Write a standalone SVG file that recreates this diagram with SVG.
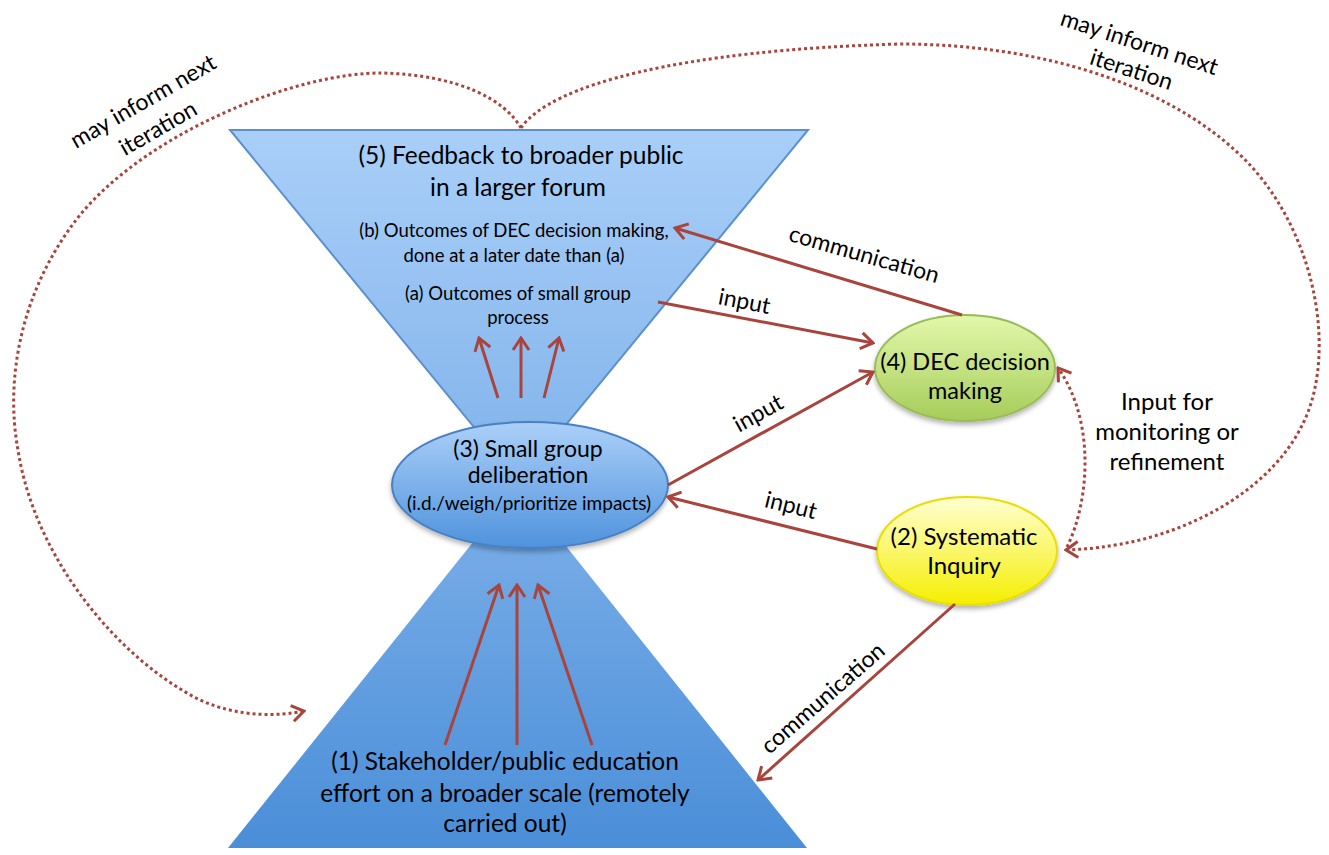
<svg xmlns="http://www.w3.org/2000/svg" width="1329" height="855" viewBox="0 0 1329 855">
<defs>
<linearGradient id="gTop" x1="0" y1="0" x2="0" y2="1">
<stop offset="0" stop-color="#a9cff8"/><stop offset="1" stop-color="#80b2eb"/>
</linearGradient>
<linearGradient id="gBot" x1="0" y1="0" x2="0" y2="1">
<stop offset="0" stop-color="#7db0e9"/><stop offset="1" stop-color="#4a8ed8"/>
</linearGradient>
<linearGradient id="gE3" x1="0" y1="0" x2="0" y2="1">
<stop offset="0" stop-color="#abd0f8"/><stop offset="1" stop-color="#4f92dd"/>
</linearGradient>
<linearGradient id="gE4" x1="0" y1="0" x2="0" y2="1">
<stop offset="0" stop-color="#e2f8ab"/><stop offset="1" stop-color="#a6cc5a"/>
</linearGradient>
<linearGradient id="gE2" x1="0" y1="0" x2="0" y2="1">
<stop offset="0" stop-color="#ffffd2"/><stop offset="1" stop-color="#f5ee00"/>
</linearGradient>
<filter id="sh" x="-20%" y="-20%" width="140%" height="150%">
<feDropShadow dx="0" dy="3" stdDeviation="2.5" flood-color="#000" flood-opacity="0.3"/>
</filter>
<marker id="ah" viewBox="0 0 16 20" refX="14" refY="10" markerWidth="16" markerHeight="20" markerUnits="userSpaceOnUse" orient="auto">
<path d="M2,2 L14,10 L2,18" fill="none" stroke="#a9443d" stroke-width="3"/>
</marker>
</defs>
<style>
.t{font-family:Lato,"Open Sans","Liberation Sans",sans-serif;fill:#000;text-anchor:middle}
.big{font-size:24.5px}
.sm{font-size:18.5px}
.lbl{font-size:23px}
.arr{fill:none;stroke:#a9443d;stroke-width:3;marker-end:url(#ah)}
.dot{fill:none;stroke:#a9443d;stroke-width:3;stroke-dasharray:3 3}
</style>

<g id="node5">
<polygon points="230,130 808,130 519,482" fill="url(#gTop)" stroke="#5a8fd0" stroke-width="2"/>
<text class="t big" x="521" y="164">(5) Feedback to broader public</text>
<text class="t big" x="518" y="196">in a larger forum</text>
<text class="t sm" x="514" y="237">(b) Outcomes of DEC decision making,</text>
<text class="t sm" x="514" y="262">done at a later date than (a)</text>
<text class="t sm" x="518" y="300">(a) Outcomes of small group</text>
<text class="t sm" x="518" y="324">process</text>
</g>

<g id="node1">
<polygon points="228,848 807,848 518,486" fill="url(#gBot)"/>
<text class="t big" x="505" y="770">(1) Stakeholder/public education</text>
<text class="t big" x="505" y="802">effort on a broader scale (remotely</text>
<text class="t big" x="505" y="832">carried out)</text>
</g>

<g id="node3">
<ellipse cx="530" cy="485" rx="138" ry="63" fill="url(#gE3)" stroke="#4a80c2" stroke-width="2" filter="url(#sh)"/>
<text class="t" style="font-size:23px" x="528" y="457">(3) Small group</text>
<text class="t" style="font-size:23px" x="528" y="483">deliberation</text>
<text class="t" style="font-size:19px" x="529" y="510">(i.d./weigh/prioritize impacts)</text>
</g>

<g id="node4">
<ellipse cx="965" cy="368" rx="90" ry="53" fill="url(#gE4)" stroke="#9bbb59" stroke-width="2" filter="url(#sh)"/>
<text class="t" style="font-size:23.5px" x="965" y="370">(4) DEC decision</text>
<text class="t" style="font-size:23.5px" x="965" y="399">making</text>
</g>

<g id="node2">
<ellipse cx="967" cy="551" rx="90" ry="54" fill="url(#gE2)" stroke="#e8df00" stroke-width="2" filter="url(#sh)"/>
<text class="t" style="font-size:24px" x="964" y="545">(2) Systematic</text>
<text class="t" style="font-size:24px" x="964" y="574">Inquiry</text>
</g>

<g id="connectors">
<line class="arr" x1="498" y1="398" x2="479" y2="338"/>
<line class="arr" x1="521" y1="398" x2="521" y2="338"/>
<line class="arr" x1="544" y1="398" x2="559" y2="338"/>
<line class="arr" x1="445" y1="745" x2="499" y2="585"/>
<line class="arr" x1="517" y1="745" x2="517" y2="585"/>
<line class="arr" x1="592" y1="745" x2="538" y2="585"/>
<line class="arr" x1="962" y1="315" x2="675" y2="228"/>
<line class="arr" x1="658" y1="302" x2="873" y2="343"/>
<line class="arr" x1="668" y1="485" x2="873" y2="372"/>
<line class="arr" x1="877" y1="549" x2="668" y2="497"/>
<line class="arr" x1="955" y1="604" x2="758" y2="780"/>
<path class="dot" marker-end="url(#ah)" d="M521,128 C505,100 460,75 382,73 C300,72 150,130 80,215 C20,290 5,380 18,450 C35,560 120,660 200,700 C240,718 280,716 304,711"/>
<path class="dot" marker-end="url(#ah)" d="M521,128 C550,85 680,50 900,44 C1050,44 1180,90 1250,165 C1310,230 1332,330 1312,400 C1292,470 1220,520 1140,540 C1110,547 1090,549 1066,550"/>
<path class="dot" marker-end="url(#ah)" d="M1067,547 C1090,500 1095,420 1058,368"/>
<text class="t lbl" transform="translate(862,262) rotate(16)">communication</text>
<text class="t lbl" transform="translate(743,309) rotate(11)">input</text>
<text class="t lbl" transform="translate(762,420) rotate(-29)">input</text>
<text class="t lbl" transform="translate(789,513) rotate(14)">input</text>
<text class="t lbl" transform="translate(828,704) rotate(-41)">communication</text>
<text class="t" style="font-size:24px" x="1167" y="410">Input for</text>
<text class="t" style="font-size:24px" x="1167" y="440">monitoring or</text>
<text class="t" style="font-size:24px" x="1167" y="470">refinement</text>
<text class="t lbl" transform="translate(147,108) rotate(-30)">may inform next</text>
<text class="t lbl" transform="translate(162,135) rotate(-30)">iteration</text>
<text class="t lbl" transform="translate(1137,50) rotate(18)">may inform next</text>
<text class="t lbl" transform="translate(1129,77) rotate(18)">iteration</text>
</g>
</svg>
